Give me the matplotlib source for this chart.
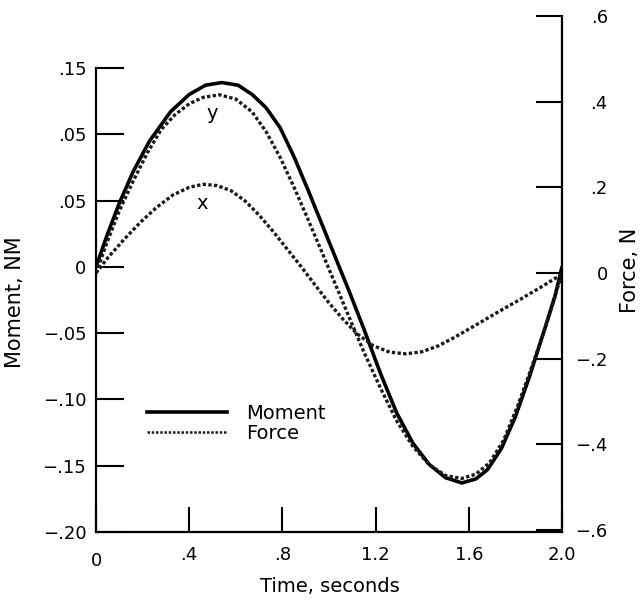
import matplotlib.pyplot as plt
from matplotlib.lines import Line2D

plt.rcParams['font.family'] = 'DejaVu Sans'

# moment, left axis (NM)
t_moment = [0, 0.05, 0.10, 0.16, 0.23, 0.32, 0.40, 0.47, 0.54, 0.61, 0.67, 0.73, 0.79, 0.85, 0.91,
            0.97, 1.03, 1.09, 1.15, 1.22, 1.29, 1.36, 1.43, 1.50, 1.57, 1.63, 1.68, 1.74, 1.80, 1.86,
            1.92, 1.97, 2.0]
moment = [0, 0.025, 0.048, 0.072, 0.095, 0.117, 0.130, 0.137, 0.139, 0.137, 0.130, 0.120, 0.105,
          0.083, 0.058, 0.032, 0.006, -0.020, -0.047, -0.080, -0.110, -0.133, -0.149, -0.159, -0.163,
          -0.160, -0.153, -0.137, -0.113, -0.083, -0.050, -0.022, 0]

# force components, right axis (N)
t_fy = [0, 0.05, 0.10, 0.16, 0.22, 0.28, 0.34, 0.40, 0.46, 0.53, 0.60, 0.67, 0.73, 0.79, 0.85, 0.91,
        0.97, 1.03, 1.09, 1.15, 1.22, 1.29, 1.36, 1.43, 1.50, 1.57, 1.63, 1.69, 1.75, 1.81, 1.87, 1.93,
        1.97, 2.0]
force_y = [0, 0.075, 0.145, 0.215, 0.280, 0.335, 0.370, 0.395, 0.410, 0.416, 0.406, 0.376, 0.330,
           0.270, 0.200, 0.125, 0.048, -0.030, -0.108, -0.185, -0.268, -0.345, -0.405, -0.448, -0.473,
           -0.480, -0.470, -0.443, -0.390, -0.310, -0.220, -0.125, -0.055, 0]

t_fx = [0, 0.05, 0.12, 0.19, 0.26, 0.33, 0.40, 0.46, 0.52, 0.58, 0.64, 0.70, 0.76, 0.82, 0.88, 0.94,
        1.00, 1.06, 1.12, 1.19, 1.26, 1.33, 1.40, 1.47, 1.54, 1.62, 1.72, 1.82, 1.91, 2.0]
force_x = [0, 0.035, 0.078, 0.118, 0.153, 0.182, 0.200, 0.207, 0.204, 0.192, 0.168, 0.135, 0.097,
           0.056, 0.015, -0.028, -0.070, -0.108, -0.142, -0.170, -0.185, -0.189, -0.184, -0.170,
           -0.150, -0.125, -0.093, -0.062, -0.033, -0.003]

x_ticks = [0, 0.4, 0.8, 1.2, 1.6, 2.0]
x_labels = ['0', '.4', '.8', '1.2', '1.6', '2.0']
m_ticks = [-0.20, -0.15, -0.10, -0.05, 0, 0.05, 0.10, 0.15]
m_labels = ['\u2212.20', '\u2212.15', '\u2212.10', '\u2212.05', '0', '.05', '.05', '.15']
f_ticks = [-0.6, -0.4, -0.2, 0, 0.2, 0.4, 0.6]
f_labels = ['\u2212.6', '\u2212.4', '\u2212.2', '0', '.2', '.4', '.6']

W, H = 643, 607
fig = plt.figure(figsize=(W / 100, H / 100), dpi=100)
ax = fig.add_axes([96 / W, 75 / H, 466 / W, 516 / H])
ax2 = ax.twinx()

force_dash = (0, (1.0, 0.7))
ax.plot(t_moment, moment, color='black', lw=2.6, solid_capstyle='round', zorder=3)
ax2.plot(t_fy, force_y, color='#1a1a1a', lw=2.4, linestyle=force_dash)
ax2.plot(t_fx, force_x, color='#1a1a1a', lw=2.4, linestyle=force_dash)

ax.set_xlim(0, 2.0)
ax.set_ylim(-0.20, 0.1892)
ax2.set_ylim(-0.605, 0.6)

for s in ['top', 'right']:
    ax.spines[s].set_visible(False)
for s in ['top', 'left', 'bottom']:
    ax2.spines[s].set_visible(False)
ax.spines['left'].set_bounds(-0.20, 0.15)
for s in [ax.spines['left'], ax.spines['bottom'], ax2.spines['right']]:
    s.set_linewidth(1.6)

ax.set_xticks(x_ticks, x_labels)
ax.set_yticks(m_ticks, m_labels)
ax2.set_yticks(f_ticks, f_labels)
ax.tick_params(axis='x', direction='in', length=18, width=1.5, pad=10, labelsize=13)
ax.tick_params(axis='y', direction='in', length=20, width=1.5, pad=7, labelsize=13)
ax2.tick_params(axis='y', direction='in', length=19, width=1.5, pad=33, labelsize=13)
for lab in ax2.get_yticklabels():
    lab.set_horizontalalignment('right')
# the origin label sits a little lower than the others
ax.get_xticklabels()[0].set_y(-0.012)

ax.text(0.498, 0.116, 'y', ha='center', va='center', fontsize=14)
ax.text(0.455, 0.048, 'x', ha='center', va='center', fontsize=14)

handles = [Line2D([], [], color='black', lw=2.6),
           Line2D([], [], color='#1a1a1a', lw=1.8, linestyle=force_dash)]
ax.legend(handles, ['Moment', 'Force'], loc='upper left', bbox_to_anchor=(0.109, 0.248),
          frameon=False, fontsize=14, handlelength=4.1, handletextpad=1.0,
          labelspacing=0.06, borderpad=0, borderaxespad=0)

fig.text(15 / W, 1 - 302 / H, 'Moment, NM', rotation=90, ha='center', va='center', fontsize=15)
fig.text(630 / W, 1 - 270 / H, 'Force, N', rotation=90, ha='center', va='center', fontsize=15)
fig.text(330 / W, 1 - 587 / H, 'Time, seconds', ha='center', va='center', fontsize=14)

fig.savefig('out.png', dpi=100)
